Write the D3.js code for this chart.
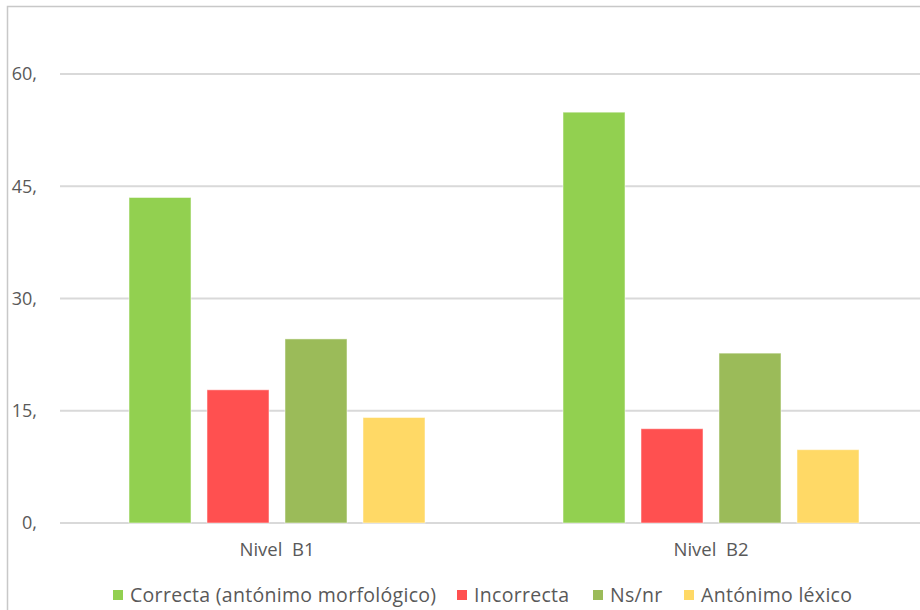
<!DOCTYPE html>
<html>
<head>
<meta charset="utf-8">
<script src="https://cdn.jsdelivr.net/npm/d3@7"></script>
<style>
  html, body { margin: 0; padding: 0; background: #fff; }
  svg { display: block; font-family: "Open Sans", sans-serif; }
</style>
</head>
<body>
<svg id="chart" width="920" height="610"></svg>
<script>
// Categories, series and tick labels
const categories = ["Nivel  B1", "Nivel  B2"];
const seriesNames = ["Correcta (antónimo morfológico)", "Incorrecta", "Ns/nr", "Antónimo léxico"];
const seriesColors = ["#92D050", "#FF5050", "#9BBB59", "#FFD966"];
const correcta = [43.5, 54.9];
const incorrecta = [17.8, 12.6];
const nsnr = [24.6, 22.7];
const lexico = [14.1, 9.8];
const yTicks = [0, 15, 30, 45, 60];
const yTickLabels = ["0,", "15,", "30,", "45,", "60,"];

const seriesValues = [correcta, incorrecta, nsnr, lexico];

const svg = d3.select("#chart");

// Chart frame
svg.append("rect")
  .attr("x", 7.5).attr("y", 6.5)
  .attr("width", 940).attr("height", 640)
  .attr("fill", "#fff")
  .attr("stroke", "#c8c8c8")
  .attr("stroke-width", 1.5);

const plot = { left: 60, right: 928, top: 74, bottom: 523 };

const x = d3.scaleBand()
  .domain(categories)
  .range([plot.left, plot.right])
  .paddingInner(0).paddingOuter(0);

// Bars inside each category band
const groupInset = 69;
const xs = d3.scaleBand()
  .domain(seriesNames)
  .range([groupInset, x.bandwidth() - groupInset])
  .paddingInner(0.205)
  .paddingOuter(0);

const y = d3.scaleLinear()
  .domain([0, 60])
  .range([plot.bottom, plot.top]);

// Horizontal gridlines
svg.append("g")
  .selectAll("line")
  .data(yTicks)
  .join("line")
  .attr("x1", plot.left).attr("x2", 920)
  .attr("y1", d => y(d)).attr("y2", d => y(d))
  .attr("stroke", "#d9d9d9")
  .attr("stroke-width", 2);

// Y axis labels
const yAxis = d3.axisLeft(y)
  .tickValues(yTicks)
  .tickSize(0)
  .tickPadding(0)
  .tickFormat((d, i) => yTickLabels[i]);

svg.append("g")
  .attr("transform", "translate(37,0)")
  .call(yAxis)
  .call(g => g.select(".domain").remove())
  .call(g => g.selectAll("text")
    .attr("fill", "#595959")
    .attr("font-size", 18)
    .attr("font-family", "'Open Sans', sans-serif"));

// Bars
const groups = svg.append("g")
  .selectAll("g")
  .data(categories)
  .join("g")
  .attr("transform", d => `translate(${x(d)},0)`);

groups.selectAll("rect")
  .data((c, ci) => seriesNames.map((s, si) => ({ s, si, v: seriesValues[si][ci] })))
  .join("rect")
  .attr("x", d => xs(d.s))
  .attr("width", xs.bandwidth())
  .attr("y", d => y(d.v))
  .attr("height", d => y(0) - y(d.v))
  .attr("fill", d => seriesColors[d.si])
  .attr("stroke", "#ffffff")
  .attr("stroke-opacity", 0.5)
  .attr("stroke-width", 1);

// Category labels
const xAxis = d3.axisBottom(x).tickSize(0).tickPadding(0);
svg.append("g")
  .attr("transform", `translate(0,${plot.bottom + 20})`)
  .call(xAxis)
  .call(g => g.select(".domain").remove())
  .call(g => g.selectAll("text")
    .attr("fill", "#595959")
    .attr("font-size", 18.5)
    .attr("font-family", "'Open Sans', sans-serif")
    .style("white-space", "pre"));

// Legend
const legendX = [113, 457, 593, 684];
const legend = svg.append("g")
  .selectAll("g")
  .data(seriesNames)
  .join("g")
  .attr("transform", (d, i) => `translate(${legendX[i]},590)`);

legend.append("rect")
  .attr("x", 0).attr("y", 0)
  .attr("width", 10).attr("height", 10)
  .attr("fill", (d, i) => seriesColors[i]);

legend.append("text")
  .attr("x", 17)
  .attr("y", 12)
  .attr("fill", "#595959")
  .attr("font-size", 19.5)
  .attr("letter-spacing", 0.3)
  .text(d => d);
</script>
</body>
</html>
